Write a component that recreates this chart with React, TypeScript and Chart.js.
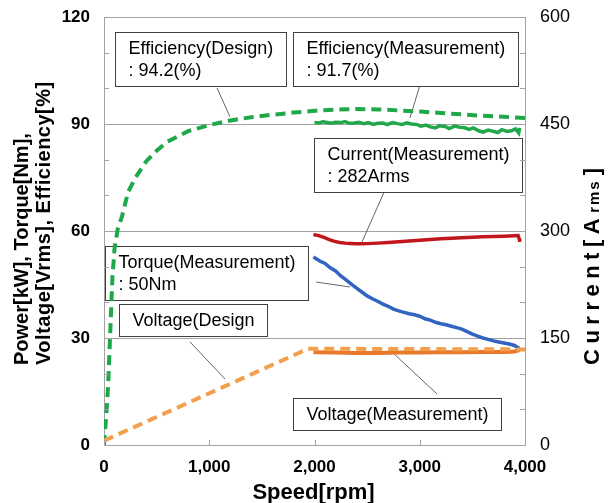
import React, { useEffect, useRef } from 'react';
import { Chart, registerables } from 'chart.js';

Chart.register(...registerables);

const FONT = "'Liberation Sans', Arial, Helvetica, sans-serif";

// ---- Efficiency, design curve [%] ----
const effDesignSpeed = [0, 10, 25, 40, 60, 80, 100, 130, 170, 230, 300, 400, 500, 600, 800, 1000, 1200, 1400, 1600, 1800, 2000, 2200, 2400, 2600, 2800, 3000, 3200, 3400, 3600, 3800, 4000];
const effDesign = [0, 4, 10, 17, 32, 47, 55, 60.5, 64, 71, 75, 79.5, 82.5, 85, 88, 89.7, 91, 91.9, 92.6, 93.2, 93.7, 94.0, 94.2, 94.1, 93.8, 93.5, 93.1, 92.7, 92.3, 92.0, 91.7];

// ---- Efficiency, measured [%] ----
const effMeasSpeed = [2000, 2040, 2080, 2120, 2160, 2200, 2250, 2290, 2330, 2380, 2420, 2470, 2510, 2560, 2600, 2650, 2690, 2740, 2790, 2830, 2880, 2920, 2970, 3010, 3060, 3100, 3150, 3190, 3240, 3280, 3330, 3380, 3420, 3470, 3510, 3560, 3600, 3650, 3690, 3740, 3780, 3830, 3870, 3910, 3940, 3950];
const effMeas = [90.4, 90.3, 90.6, 90.4, 90.2, 90.5, 90.4, 90.7, 90.2, 90.3, 90.5, 90.1, 90.4, 89.9, 90.2, 90.3, 89.8, 90.4, 90.1, 89.9, 90.3, 90.0, 89.9, 89.4, 89.7, 89.2, 88.9, 89.5, 89.3, 88.7, 89.4, 89.1, 89.0, 88.5, 88.9, 88.1, 87.7, 88.3, 88.0, 87.6, 88.4, 87.9, 88.1, 88.6, 87.5, 88.9];

// ---- Current, measured [Arms] (right axis) ----
const currentSpeed = [1990, 2040, 2090, 2140, 2190, 2240, 2290, 2340, 2400, 2450, 2500, 2600, 2700, 2800, 2900, 3000, 3100, 3200, 3300, 3400, 3500, 3600, 3700, 3800, 3900, 3935, 3945, 3950];
const currentMeas = [295, 293.5, 291, 288, 285.5, 284, 283, 282.5, 282, 282, 282.3, 283, 284, 285, 286, 287, 288, 289, 289.8, 290.5, 291.2, 291.8, 292.3, 292.8, 293.3, 293.5, 289, 285];

// ---- Torque, measured [Nm] ----
const torqueSpeed = [1990, 2050, 2100, 2150, 2200, 2250, 2300, 2350, 2400, 2450, 2500, 2550, 2600, 2650, 2700, 2750, 2800, 2850, 2900, 2950, 3000, 3050, 3100, 3150, 3200, 3250, 3300, 3350, 3400, 3450, 3500, 3550, 3600, 3650, 3700, 3750, 3800, 3850, 3900, 3950];
const torqueMeas = [52.7, 51.6, 50.9, 49.7, 48.8, 47.4, 46.3, 45.1, 44.0, 42.9, 41.8, 41.0, 40.3, 39.5, 38.9, 38.1, 37.6, 37.2, 36.8, 36.5, 36.1, 35.4, 35.0, 34.4, 34.0, 33.7, 33.3, 32.9, 32.5, 31.8, 31.1, 30.5, 30.0, 29.6, 29.2, 28.9, 28.6, 28.3, 27.9, 27.0];

// ---- Voltage, design [Vrms] ----
const voltDesignSpeed = [0, 1940, 4000];
const voltDesign = [1.2, 27.0, 26.8];

// ---- Voltage, measured [Vrms] ----
const voltMeasSpeed = [1990, 2200, 2400, 2600, 2800, 3000, 3200, 3400, 3600, 3800, 3900, 3950];
const voltMeas = [26.0, 25.9, 25.8, 25.8, 25.9, 25.9, 26.0, 26.0, 26.1, 26.1, 26.2, 26.6];

// ---- Axis ranges / ticks ----
const speedTicks = [0, 1000, 2000, 3000, 4000];
const leftMax = 120;
const leftLabelStep = 30;
const rightMax = 600;
const rightLabelStep = 150;

const leftTitle = ['Power[kW], Torque[Nm],', 'Voltage[Vrms], Efficiency[%]'];
const speedTitle = 'Speed[rpm]';

// Callout boxes: top-left corner and leader line in (speed, left-axis value) units
const callouts = [
  { lines: ['Efficiency(Design)', ': 94.2(%)'], at: [105, 115.8], from: [1074, 100.1], to: [1197, 92.0] },
  { lines: ['Efficiency(Measurement)', ': 91.7(%)'], at: [1796, 115.8], from: [3002, 100.9], to: [2907, 91.7] },
  { lines: ['Current(Measurement)', ': 282Arms'], at: [1995, 86.1], from: [2670, 71.5], to: [2451, 56.9] },
  { lines: ['Torque(Measurement)', ': 50Nm'], at: [10, 55.8], from: [2014, 45.7], to: [2337, 44.3] },
  { lines: ['Voltage(Design'], at: [143, 39.5], from: [817, 28.9], to: [1150, 18.5] },
  { lines: ['Voltage(Measurement)'], at: [1796, 13.2], from: [3164, 14.3], to: [2746, 25.8] },
];

const GRID = '#a3a3a3';
const pts = (xs: number[], ys: number[]) => xs.map((x, i) => ({ x, y: ys[i] }));

// keep the vertical axes from pushing the plot area down
const fixVertical = (width: number) => (s: any) => {
  s.width = width;
  s.paddingTop = 0;
  s.paddingBottom = 0;
};

const calloutPlugin = {
  id: 'callouts',
  beforeDatasetsDraw(chart: any) {
    const { ctx, scales } = chart;
    const sx = scales.x;
    const sy = scales.y;
    const PAD_X = 13;
    const PAD_Y = 5;
    const LINE_H = 22;
    ctx.save();
    ctx.font = `18px ${FONT}`;
    for (const c of callouts) {
      ctx.strokeStyle = '#555555';
      ctx.lineWidth = 0.9;
      ctx.beginPath();
      ctx.moveTo(sx.getPixelForValue(c.from[0]), sy.getPixelForValue(c.from[1]));
      ctx.lineTo(sx.getPixelForValue(c.to[0]), sy.getPixelForValue(c.to[1]));
      ctx.stroke();

      const left = Math.round(sx.getPixelForValue(c.at[0])) + 0.5;
      const top = Math.round(sy.getPixelForValue(c.at[1])) + 0.5;
      const w = Math.round(Math.max(...c.lines.map((t) => ctx.measureText(t).width)) + 2 * PAD_X);
      const h = c.lines.length * LINE_H + 2 * PAD_Y;
      ctx.fillStyle = '#ffffff';
      ctx.fillRect(left, top, w, h);
      ctx.strokeStyle = '#404040';
      ctx.lineWidth = 1;
      ctx.strokeRect(left, top, w, h);
      ctx.fillStyle = '#000000';
      ctx.textAlign = 'left';
      ctx.textBaseline = 'middle';
      c.lines.forEach((t, i) => ctx.fillText(t, left + PAD_X, top + PAD_Y + LINE_H / 2 + i * LINE_H + 1));
    }
    ctx.restore();
  },
};

const frameDecorPlugin = {
  id: 'frameDecor',
  afterDraw(chart: any) {
    const { ctx, chartArea: a, scales } = chart;
    ctx.save();
    // inward tick marks
    ctx.strokeStyle = GRID;
    ctx.lineWidth = 1;
    ctx.beginPath();
    scales.y.ticks.forEach((t: any) => {
      const py = Math.round(scales.y.getPixelForValue(t.value)) + 0.5;
      ctx.moveTo(a.left, py);
      ctx.lineTo(a.left + 5, py);
    });
    scales.y1.ticks.forEach((t: any) => {
      const py = Math.round(scales.y1.getPixelForValue(t.value)) + 0.5;
      ctx.moveTo(a.right - 5, py);
      ctx.lineTo(a.right, py);
    });
    scales.x.ticks.forEach((t: any) => {
      const px = Math.round(scales.x.getPixelForValue(t.value)) + 0.5;
      ctx.moveTo(px, a.bottom);
      ctx.lineTo(px, a.bottom - 5);
    });
    ctx.stroke();

    ctx.fillStyle = '#000000';
    ctx.textBaseline = 'middle';

    // left axis title (two rotated lines, starting from the same end)
    ctx.font = `bold 20px ${FONT}`;
    ctx.textAlign = 'left';
    const startY = a.bottom - 80;
    leftTitle.forEach((line, i) => {
      ctx.save();
      ctx.translate(a.left - 82 + i * 22, startY);
      ctx.rotate(-Math.PI / 2);
      if (i === 1) (ctx as any).letterSpacing = '0.5px';
      ctx.fillText(line, 0, 0);
      ctx.restore();
    });

    // right axis title: Current[A rms]
    ctx.save();
    ctx.translate(a.right + 67, startY);
    ctx.rotate(-Math.PI / 2);
    (ctx as any).letterSpacing = '5.5px';
    ctx.textAlign = 'left';
    ctx.textBaseline = 'alphabetic';
    let cx = 0;
    const base = 7;
    ctx.font = `bold 22px ${FONT}`;
    ctx.fillText('Current[A', cx, base);
    cx += ctx.measureText('Current[A').width;
    ctx.font = `bold 15px ${FONT}`;
    (ctx as any).letterSpacing = '2px';
    ctx.fillText('rms', cx, base);
    cx += ctx.measureText('rms').width + 4;
    ctx.font = `bold 22px ${FONT}`;
    ctx.fillText(']', cx, base);
    ctx.restore();

    // x axis title
    ctx.font = `bold 22px ${FONT}`;
    ctx.textAlign = 'center';
    ctx.textBaseline = 'middle';
    ctx.fillText(speedTitle, (a.left + a.right) / 2 - 1, a.bottom + 48);
    ctx.restore();
  },
};

export default function App() {
  const ref = useRef<HTMLCanvasElement>(null);

  useEffect(() => {
    if (!ref.current) return;
    const chart = new Chart(ref.current, {
      type: 'line',
      data: {
        datasets: [
          {
            label: 'Voltage(Design)',
            data: pts(voltDesignSpeed, voltDesign),
            borderColor: '#f3a04e',
            borderWidth: 4,
            borderDash: [10, 6],
            yAxisID: 'y',
          },
          {
            label: 'Efficiency(Design)',
            data: pts(effDesignSpeed, effDesign),
            borderColor: '#1fa84a',
            borderWidth: 4,
            borderDash: [10, 6],
            yAxisID: 'y',
          },
          {
            label: 'Efficiency(Measurement)',
            data: pts(effMeasSpeed, effMeas),
            borderColor: '#22a84a',
            borderWidth: 3.5,
            yAxisID: 'y',
          },
          {
            label: 'Torque(Measurement)',
            data: pts(torqueSpeed, torqueMeas),
            borderColor: '#3163c0',
            borderWidth: 3.5,
            yAxisID: 'y',
          },
          {
            label: 'Voltage(Measurement)',
            data: pts(voltMeasSpeed, voltMeas),
            borderColor: '#e8782a',
            borderWidth: 4,
            yAxisID: 'y',
          },
          {
            label: 'Current(Measurement)',
            data: pts(currentSpeed, currentMeas),
            borderColor: '#c0161c',
            borderWidth: 3.5,
            yAxisID: 'y1',
          },
        ],
      },
      options: {
        responsive: false,
        animation: false,
        devicePixelRatio: 1,
        layout: { padding: { top: 17, left: 0, right: 0, bottom: 0 } },
        elements: {
          point: { radius: 0 },
          line: { tension: 0, fill: false },
        },
        plugins: {
          legend: { display: false },
          tooltip: { enabled: false },
        },
        scales: {
          x: {
            type: 'linear',
            min: speedTicks[0],
            max: speedTicks[speedTicks.length - 1],
            afterBuildTicks: (s: any) => {
              s.ticks = speedTicks.map((v) => ({ value: v }));
            },
            afterFit: (s: any) => {
              s.height = 58;
            },
            ticks: {
              color: '#000',
              font: { family: FONT, size: 17, weight: 'bold' },
              padding: 12,
              maxRotation: 0,
              autoSkip: false,
              callback: (v: any) => Number(v).toLocaleString('en-US'),
            },
            grid: { drawOnChartArea: false, drawTicks: false },
            border: { color: GRID, width: 1 },
          },
          y: {
            position: 'left',
            min: 0,
            max: leftMax,
            afterFit: fixVertical(104),
            ticks: {
              stepSize: 10,
              autoSkip: false,
              color: '#000',
              padding: 14,
              font: { family: FONT, size: 17, weight: 'bold' },
              callback: (v: any) => (Number(v) % leftLabelStep === 0 ? String(v) : ''),
            },
            grid: {
              drawTicks: false,
              color: (c: any) => (c.tick && c.tick.value % leftLabelStep === 0 ? GRID : 'rgba(0,0,0,0)'),
              lineWidth: 1,
            },
            border: { color: GRID, width: 1 },
          },
          y1: {
            position: 'right',
            min: 0,
            max: rightMax,
            afterFit: fixVertical(85),
            ticks: {
              stepSize: 50,
              autoSkip: false,
              color: '#000',
              padding: 15,
              font: { family: FONT, size: 18 },
              callback: (v: any) => (Number(v) % rightLabelStep === 0 ? String(v) : ''),
            },
            grid: { drawOnChartArea: false, drawTicks: false },
            border: { color: GRID, width: 1 },
          },
        },
      } as any,
      plugins: [calloutPlugin, frameDecorPlugin],
    });
    return () => chart.destroy();
  }, []);

  return (
    <div style={{ position: 'fixed', left: 0, top: 0, width: 610, height: 503, background: '#ffffff' }}>
      <canvas ref={ref} width={610} height={503} style={{ display: 'block' }} />
    </div>
  );
}
